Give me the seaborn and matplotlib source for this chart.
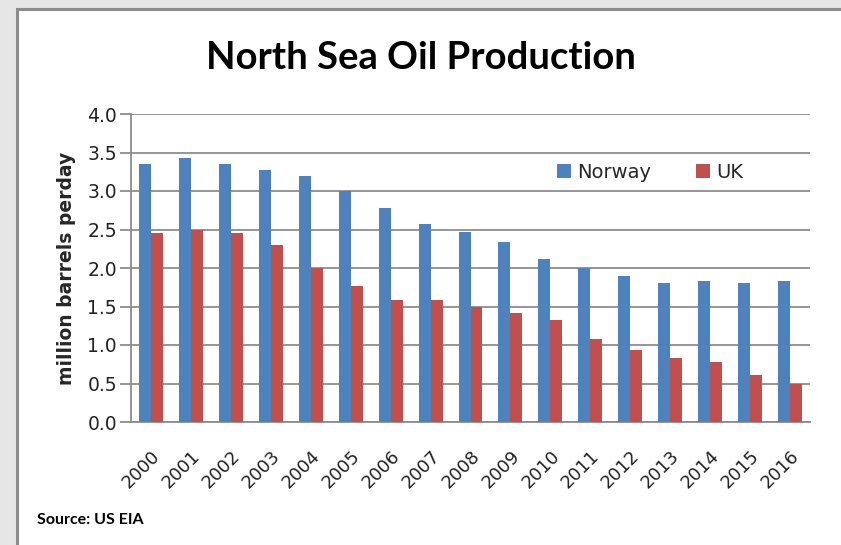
import matplotlib
matplotlib.use("Agg")
import matplotlib.pyplot as plt
import seaborn as sns
import pandas as pd
from matplotlib.patches import Rectangle

years = ["2000", "2001", "2002", "2003", "2004", "2005", "2006", "2007", "2008",
         "2009", "2010", "2011", "2012", "2013", "2014", "2015", "2016"]
norway = [3.35, 3.43, 3.35, 3.27, 3.20, 3.00, 2.78, 2.57, 2.47,
          2.34, 2.12, 2.00, 1.90, 1.81, 1.83, 1.81, 1.83]
uk = [2.45, 2.50, 2.45, 2.30, 2.00, 1.76, 1.59, 1.58, 1.49,
      1.41, 1.32, 1.08, 0.93, 0.83, 0.78, 0.61, 0.49]
series = ["Norway", "UK"]
colors = ["#4F81BD", "#C0504D"]
yticks = [0.0, 0.5, 1.0, 1.5, 2.0, 2.5, 3.0, 3.5, 4.0]

df = pd.DataFrame({
    "year": years * 2,
    "value": norway + uk,
    "country": [series[0]] * len(years) + [series[1]] * len(years),
})

sns.set_style("white")
plt.rcParams["font.family"] = ["DejaVu Sans"]

fig = plt.figure(figsize=(8.41, 5.45), dpi=100)
fig.patch.set_facecolor("#E6E6E6")
# white panel with grey border
fig.add_artist(Rectangle((17 / 841, -0.01), 1.0, 1 - 9 / 545 + 0.01,
                         transform=fig.transFigure, facecolor="white",
                         edgecolor="#8C8C8C", linewidth=2.2, zorder=0))

ax = fig.add_axes([131 / 841, 1 - 422 / 545, (810 - 131) / 841, (422 - 114) / 545])
ax.set_facecolor("none")
sns.barplot(data=df, x="year", y="value", hue="country", palette=colors,
            width=0.6, saturation=1, linewidth=0, ax=ax, zorder=3, legend=True)

ax.set_ylim(0, 4.0)
ax.set_xlim(-0.5, len(years) - 0.5)
ax.set_yticks(yticks)
ax.set_yticklabels([f"{v:.1f}" for v in yticks], fontsize=13.5, color="#222222")
ax.yaxis.grid(True, color="#8C8C8C", linewidth=1.3, zorder=0)
ax.set_axisbelow(True)
ax.tick_params(axis="y", length=8, width=1.3, color="#8C8C8C", pad=2, left=True)
ax.tick_params(axis="x", length=0, pad=18)
plt.setp(ax.get_xticklabels(), rotation=45, ha="right", rotation_mode="anchor",
         fontsize=13, color="#222222")
for s in ["top", "right"]:
    ax.spines[s].set_visible(False)
for s in ["left", "bottom"]:
    ax.spines[s].set_color("#8C8C8C")
    ax.spines[s].set_linewidth(1.3)
ax.set_xlabel("")
ax.set_ylabel("million barrels perday", fontsize=13.5, fontweight="bold", labelpad=8)

leg = ax.legend(loc="center left", bbox_to_anchor=(557 / 841, 1 - 172 / 545),
                bbox_transform=fig.transFigure, ncol=2, frameon=False,
                fontsize=14, handlelength=0.7, handleheight=0.7, handletextpad=0.35,
                columnspacing=2.3, borderpad=0, borderaxespad=0)

fig.text(0.5, 1 - 58 / 545, "North Sea Oil Production", ha="center", va="center",
         fontsize=27.5, fontweight="bold", family="Lato", color="black")
fig.text(37 / 841, 1 - 520 / 545, "Source: US EIA", ha="left", va="center",
         fontsize=11.5, fontweight="bold", family="Lato", color="black")

fig.savefig("out.png", dpi=100, facecolor=fig.get_facecolor())
